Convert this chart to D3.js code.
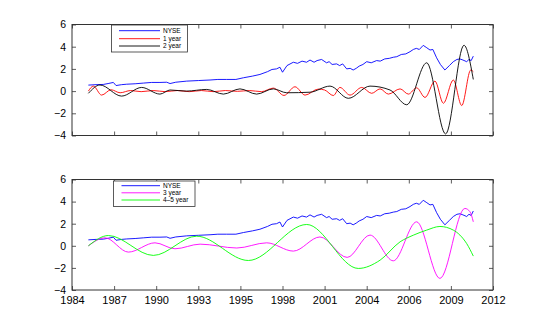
<!DOCTYPE html>
<html>
<head>
<meta charset="utf-8">
<script src="https://cdn.jsdelivr.net/npm/d3@7"></script>
<style>
  html, body { margin: 0; padding: 0; background: #fff; }
  svg { display: block; font-family: "Liberation Sans", Arial, sans-serif; }
</style>
</head>
<body>
<div id="chart"></div>
<script>
// x tick positions (evenly spaced, as in the original) and their labels
const tickYears = [1984, 1986.8, 1989.6, 1992.4, 1995.2, 1998, 2000.8, 2003.6, 2006.4, 2009.2, 2012];
const tickLabels = ["1984", "1987", "1990", "1993", "1995", "1998", "2001", "2004", "2006", "2009", "2012"];
const yTicks = [-4, -2, 0, 2, 4, 6];

// NYSE index (same series in both panels)
const nyse = [
  [1985.09, 0.54], [1985.6, 0.58], [1986.08, 0.6], [1986.4, 0.68], [1986.75, 0.78], [1986.93, 0.5],
  [1987.3, 0.58], [1987.64, 0.62], [1988.2, 0.66], [1988.74, 0.72], [1989.3, 0.78], [1989.85, 0.78],
  [1990.3, 0.8], [1990.52, 0.68], [1990.9, 0.8], [1991.63, 0.9], [1992.4, 0.95], [1993.18, 1.0],
  [1993.7, 1.05], [1994.29, 1.05], [1994.9, 1.05], [1995.4, 1.2], [1996.0, 1.35], [1996.5, 1.5],
  [1997.0, 1.75], [1997.3, 1.95], [1997.6, 2.0], [1997.83, 2.15], [1998.0, 1.7], [1998.3, 2.3], [1998.72, 2.6],
  [1999.0, 2.5], [1999.3, 2.7], [1999.6, 2.6], [1999.83, 2.8], [2000.1, 2.6], [2000.3, 2.75], [2000.6, 2.85],
  [2000.93, 2.55], [2001.1, 2.65], [2001.3, 2.4], [2001.6, 2.45], [2001.8, 2.3], [2002.0, 2.45],
  [2002.27, 2.0], [2002.5, 2.05], [2002.7, 1.9], [2002.9, 2.05], [2003.1, 2.25], [2003.35, 2.4],
  [2003.6, 2.65], [2003.9, 2.55], [2004.26, 2.75], [2004.5, 2.7], [2004.8, 2.9], [2005.1, 2.95],
  [2005.37, 3.05], [2005.6, 3.1], [2005.9, 3.3], [2006.2, 3.35], [2006.48, 3.55], [2006.7, 3.75],
  [2006.9, 3.85], [2007.1, 3.75], [2007.36, 4.12], [2007.6, 3.9], [2007.81, 3.7], [2008.0, 3.75],
  [2008.25, 3.0], [2008.5, 2.4], [2008.8, 1.9], [2009.1, 2.3], [2009.36, 2.65], [2009.6, 2.85],
  [2009.8, 2.9], [2010.0, 2.8], [2010.25, 2.65], [2010.4, 2.85], [2010.55, 2.75], [2010.69, 3.15]
];

// 1 year cycle (red)
const oneYear = [
  [1985.09, 0.0], [1985.42, 0.45], [1985.97, -0.36], [1986.6, 0.12], [1987.2, -0.15], [1987.9, 0.05],
  [1988.6, -0.05], [1989.4, 0.05], [1990.2, -0.05], [1991.0, 0.05], [1991.8, -0.05], [1992.6, 0.05],
  [1993.4, -0.05], [1994.2, 0.05], [1995.0, -0.02], [1995.8, 0.05], [1996.6, -0.05],
  [1997.39, 0.27], [1998.1, -0.39], [1998.83, 0.39], [1999.5, -0.36], [2000.38, 0.18], [2000.8, 0.1],
  [2001.38, -0.4], [2001.82, 0.33], [2002.49, -0.36], [2003.27, 0.33], [2003.93, -0.2], [2004.49, 0.2],
  [2005.04, -0.27], [2005.82, 0.2], [2006.37, -0.27], [2006.92, 0.3], [2007.48, -0.57], [2008.14, 0.9],
  [2008.7, -1.1], [2009.36, 1.0], [2009.92, -1.3], [2010.52, 1.9], [2010.69, 1.75]
];

// 2 year cycle (black)
const twoYear = [
  [1985.09, -0.2], [1985.86, 0.55], [1987.3, -0.45], [1988.63, 0.33], [1989.85, -0.27], [1990.52, 0.1],
  [1991.6, 0.0], [1992.96, 0.15], [1994.07, -0.27], [1995.17, 0.2], [1996.28, -0.27], [1997.39, 0.2],
  [1998.28, -0.15], [1999.83, -0.1], [2001.16, 0.45], [2002.38, -0.65], [2003.82, 0.45],
  [2005.15, 0.1], [2006.26, -1.23], [2007.59, 2.55], [2008.85, -3.86], [2010.07, 4.13], [2010.69, 1.05]
];

// 3 year cycle (magenta)
const threeYear = [
  [1985.09, 0.0], [1986.2, 0.72], [1987.75, -0.57], [1989.52, 0.27], [1990.85, -0.27], [1992.52, 0.15],
  [1994.96, -0.2], [1996.95, 0.27], [1998.72, -0.48], [2000.49, 0.8], [2002.3, -1.05], [2003.82, 0.97],
  [2005.37, -1.36], [2006.92, 2.17], [2008.47, -2.95], [2010.13, 3.38], [2010.47, 3.08], [2010.69, 2.17]
];

// 4-5 year cycle (green)
const fourFiveYear = [
  [1985.09, 0.0], [1986.42, 0.93], [1989.41, -0.87], [1992.29, 0.87], [1995.73, -1.33], [1999.61, 1.93],
  [2003.04, -2.05], [2004.49, -1.3], [2005.82, 0.36], [2006.7, 0.96], [2007.59, 1.42], [2008.47, 1.75],
  [2009.36, 1.42], [2009.8, 0.97], [2010.25, 0.2], [2010.69, -0.93]
];

const width = 545, height = 327;
const xLeft = 72, xRight = 493;

const panels = [
  {
    top: 24.5, bottom: 135.5, showLabels: false,
    series: [
      { name: "NYSE", data: nyse, color: "#0000ff", curve: d3.curveLinear },
      { name: "1 year", data: oneYear, color: "#ff0000", curve: d3.curveMonotoneX },
      { name: "2 year", data: twoYear, color: "#000000", curve: d3.curveMonotoneX }
    ],
    legend: { x: 111.5, y: 25, w: 76, h: 27, lineX1: 119, lineX2: 160, rowY: [30.7, 38.7, 46] }
  },
  {
    top: 179.5, bottom: 290, showLabels: true,
    series: [
      { name: "NYSE", data: nyse, color: "#0000ff", curve: d3.curveLinear },
      { name: "3 year", data: threeYear, color: "#ff00ff", curve: d3.curveMonotoneX },
      { name: "4\u20135 year", data: fourFiveYear, color: "#00ff00", curve: d3.curveMonotoneX }
    ],
    legend: { x: 113.5, y: 181, w: 81.5, h: 25.5, lineX1: 121.5, lineX2: 160, rowY: [185.7, 192.8, 200] }
  }
];

const svg = d3.select("#chart").append("svg")
  .attr("width", width)
  .attr("height", height);

svg.append("rect").attr("width", width).attr("height", height).attr("fill", "#fff");

const x = d3.scaleLinear().domain([1984, 2012]).range([xLeft, xRight]);

panels.forEach((p, i) => {
  const y = d3.scaleLinear().domain([-4, 6]).range([p.bottom, p.top]);
  const g = svg.append("g");

  const clipId = `clip${i}`;
  svg.append("clipPath").attr("id", clipId)
    .append("rect")
    .attr("x", xLeft).attr("y", p.top)
    .attr("width", xRight - xLeft).attr("height", p.bottom - p.top);

  // data lines
  const lines = g.append("g").attr("clip-path", `url(#${clipId})`);
  p.series.forEach(s => {
    const line = d3.line()
      .x(d => x(d[0]))
      .y(d => y(d[1]))
      .curve(s.curve);
    lines.append("path")
      .datum(s.data)
      .attr("fill", "none")
      .attr("stroke", s.color)
      .attr("stroke-width", 0.9)
      .attr("d", line);
  });

  // axes: ticks point inwards on all four sides
  const tickSize = 4;
  const left = g.append("g").attr("transform", `translate(${xLeft},0)`)
    .call(d3.axisLeft(y).tickValues(yTicks).tickSizeInner(-tickSize).tickSizeOuter(0)
      .tickPadding(6).tickFormat(d => d < 0 ? "\u2212" + Math.abs(d) : d));
  const right = g.append("g").attr("transform", `translate(${xRight},0)`)
    .call(d3.axisRight(y).tickValues(yTicks).tickSizeInner(-tickSize).tickSizeOuter(0).tickFormat(""));
  const bottom = g.append("g").attr("transform", `translate(0,${p.bottom})`)
    .call(d3.axisBottom(x).tickValues(tickYears).tickSizeInner(-tickSize).tickSizeOuter(0)
      .tickPadding(6).tickFormat((d, k) => p.showLabels ? tickLabels[k] : ""));
  const topAxis = g.append("g").attr("transform", `translate(0,${p.top})`)
    .call(d3.axisTop(x).tickValues(tickYears).tickSizeInner(-tickSize).tickSizeOuter(0).tickFormat(""));

  [left, right, bottom, topAxis].forEach(a => {
    a.select(".domain").remove();
    a.selectAll(".tick line").attr("stroke", "#333").attr("stroke-width", 0.8);
    a.selectAll(".tick text").attr("fill", "#000");
  });
  left.selectAll(".tick text").style("font-size", "10.5px");
  bottom.selectAll(".tick text").style("font-size", "11px");

  // box
  g.append("rect")
    .attr("x", xLeft).attr("y", p.top)
    .attr("width", xRight - xLeft).attr("height", p.bottom - p.top)
    .attr("fill", "none")
    .attr("stroke", "#333")
    .attr("stroke-width", 1);

  // legend
  const L = p.legend;
  const lg = g.append("g");
  lg.append("rect")
    .attr("x", L.x).attr("y", L.y).attr("width", L.w).attr("height", L.h)
    .attr("fill", "#fff").attr("stroke", "#333").attr("stroke-width", 0.8);
  p.series.forEach((s, k) => {
    lg.append("line")
      .attr("x1", L.lineX1).attr("x2", L.lineX2)
      .attr("y1", L.rowY[k]).attr("y2", L.rowY[k])
      .attr("stroke", s.color).attr("stroke-width", 0.9);
    lg.append("text")
      .attr("x", L.lineX2 + 3).attr("y", L.rowY[k])
      .attr("dy", "0.35em")
      .style("font-size", "6.5px")
      .attr("fill", "#000")
      .text(s.name);
  });
});
</script>
</body>
</html>
